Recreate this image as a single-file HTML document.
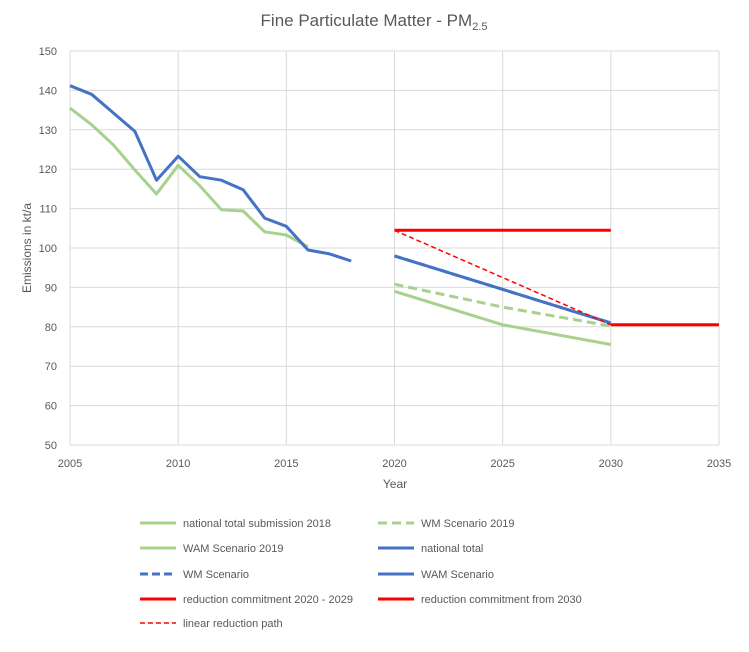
<!DOCTYPE html>
<html><head><meta charset="utf-8"><style>
body{margin:0;background:#fff;}
svg text{font-family:"Liberation Sans",sans-serif;fill:#595959;}
</style></head><body>
<svg id="s" width="749" height="647" xmlns="http://www.w3.org/2000/svg">
<rect width="749" height="647" fill="#fff"/>
<text x="374" y="26" font-size="17" text-anchor="middle">Fine Particulate Matter - PM<tspan font-size="11" dy="4">2.5</tspan></text>
<g id="grid" stroke="#d9d9d9" stroke-width="1"></g>
<g id="ticks" font-size="11"></g>
<text x="395" y="488" font-size="12" text-anchor="middle">Year</text>
<text transform="translate(31,248) rotate(-90)" font-size="12" text-anchor="middle">Emissions in kt/a</text>
<g id="series" fill="none" stroke-width="3" stroke-linejoin="round"></g>
<g id="legend" font-size="11"></g>
</svg>
<script>
var X=function(y){return 70+(y-2005)*649/30;},Y=function(v){return 51+(150-v)*3.94;};
var g=document.getElementById('grid'),t=document.getElementById('ticks'),s=document.getElementById('series'),l=document.getElementById('legend');
var h='';
for(var v=50;v<=150;v+=10){h+='<line x1="70" x2="719" y1="'+Y(v)+'" y2="'+Y(v)+'"/>';t.innerHTML+='<text x="57" y="'+(Y(v)+4)+'" text-anchor="end">'+v+'</text>';}
for(var y=2005;y<=2035;y+=5){h+='<line x1="'+X(y)+'" x2="'+X(y)+'" y1="51" y2="'+Y(50)+'"/>';t.innerHTML+='<text x="'+X(y)+'" y="467" text-anchor="middle">'+y+'</text>';}
g.innerHTML=h;
function pl(pts,c,w,d){var p=pts.map(function(a){return X(a[0]).toFixed(1)+','+Y(a[1]).toFixed(1)}).join(' ');
s.innerHTML+='<polyline points="'+p+'" stroke="'+c+'" stroke-width="'+w+'"'+(d?' stroke-dasharray="'+d+'"':'')+'/>';}
var G='#a9d18e',B='#4472c4',R='#ff0000';
pl([[2005,135.5],[2006,131.3],[2007,126.2],[2008,119.8],[2009,113.7],[2010,121],[2011,115.8],[2012,109.7],[2013,109.4],[2014,104.1],[2015,103.3],[2016,100.3]],G,3);
pl([[2020,90.8],[2025,85],[2030,80.2]],G,3,'9,5');
pl([[2020,89],[2025,80.5],[2030,75.5]],G,3);
pl([[2005,141.2],[2006,139],[2007,134.3],[2008,129.6],[2009,117.2],[2010,123.3],[2011,118.1],[2012,117.2],[2013,114.8],[2014,107.6],[2015,105.5],[2016,99.5],[2017,98.5],[2018,96.7]],B,3);
pl([[2020,98],[2030,81]],B,3);
pl([[2020,98],[2030,81]],B,3,'8,4');
pl([[2020,104.5],[2030,104.5]],R,3);
pl([[2030,80.5],[2035,80.5]],R,3);
pl([[2020,104.5],[2030,80.5]],R,1.5,'5,3');
var L=[[140,523,G,'','national total submission 2018',3],[378,523,G,'9,5','WM Scenario 2019',3],[140,548,G,'','WAM Scenario 2019',3],[378,548,B,'','national total',3],
[140,574,B,'8,4','WM Scenario',3],[378,574,B,'','WAM Scenario',3],[140,599,R,'','reduction commitment 2020 - 2029',3],[378,599,R,'','reduction commitment from 2030',3],[140,623,R,'5,3','linear reduction path',1.5]];
L.forEach(function(a){l.innerHTML+='<line x1="'+a[0]+'" x2="'+(a[0]+36)+'" y1="'+a[1]+'" y2="'+a[1]+'" stroke="'+a[2]+'" stroke-width="'+a[5]+'"'+(a[3]?' stroke-dasharray="'+a[3]+'"':'')+'/><text x="'+(a[0]+43)+'" y="'+(a[1]+4)+'">'+a[4]+'</text>';});
</script>
</body></html>
